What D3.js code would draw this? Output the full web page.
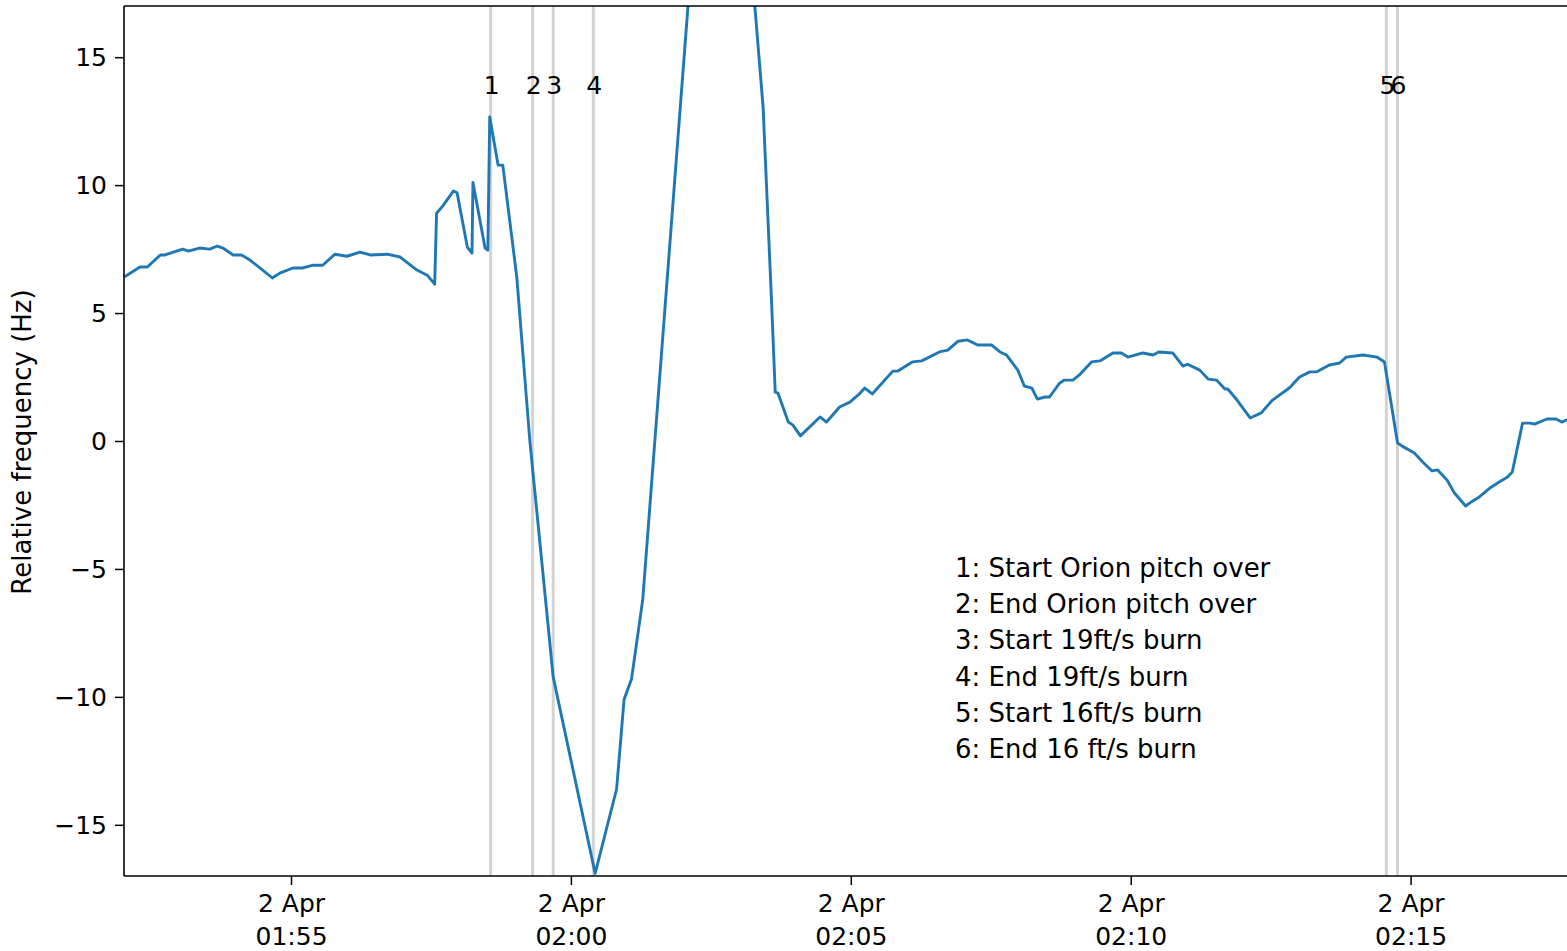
<!DOCTYPE html>
<html>
<head>
<meta charset="utf-8">
<script src="https://cdn.jsdelivr.net/npm/d3@7"></script>
<style>
  html, body { margin: 0; padding: 0; background: #fff; }
  svg { display: block; }
  text { font-family: "DejaVu Sans", sans-serif; fill: #000; }
</style>
</head>
<body>
<svg id="chart" width="1567" height="951"></svg>
<script>
// ---- data ----
const day = "2022-04-02";
const times = [
  "01:52:03","01:52:18","01:52:26","01:52:40","01:52:45","01:52:54","01:53:04","01:53:10","01:53:22","01:53:33",
  "01:53:41","01:53:47","01:53:58","01:54:07","01:54:16","01:54:27","01:54:40","01:54:48","01:55:02","01:55:12",
  "01:55:24","01:55:34","01:55:47","01:56:00","01:56:14","01:56:25","01:56:43","01:56:57","01:57:15","01:57:26",
  "01:57:34","01:57:36","01:57:43","01:57:54","01:57:58","01:58:09","01:58:14","01:58:15","01:58:28","01:58:31",
  "01:58:33","01:58:42","01:58:47","01:59:02","01:59:16","01:59:41","02:00:26","02:00:49","02:00:57","02:01:05",
  "02:01:17","02:02:40","02:03:26","02:03:35","02:03:39","02:03:42","02:03:53","02:03:58","02:04:06","02:04:27",
  "02:04:34","02:04:48","02:04:59","02:05:08","02:05:15","02:05:23","02:05:45","02:05:50","02:06:06","02:06:16",
  "02:06:35","02:06:44","02:06:55","02:07:05","02:07:16","02:07:31","02:07:40","02:07:47","02:07:59","02:08:06",
  "02:08:14","02:08:20","02:08:28","02:08:33","02:08:44","02:08:49","02:08:58","02:09:05","02:09:18","02:09:27",
  "02:09:41","02:09:50","02:09:57","02:10:13","02:10:24","02:10:30","02:10:45","02:10:56","02:11:01","02:11:14",
  "02:11:23","02:11:32","02:11:41","02:11:44","02:11:54","02:12:08","02:12:20","02:12:32","02:12:50","02:13:01",
  "02:13:12","02:13:19","02:13:33","02:13:44","02:13:51","02:14:09","02:14:24","02:14:32","02:14:46","02:14:51",
  "02:15:04","02:15:13","02:15:23","02:15:29","02:15:39","02:15:47","02:15:59","02:16:05","02:16:12","02:16:25",
  "02:16:35","02:16:44","02:16:49","02:17:00","02:17:08","02:17:13","02:17:26","02:17:36","02:17:42","02:17:47",
  "02:17:56"
];
const values = [
  6.45,6.8,6.8,7.27,7.27,7.38,7.5,7.42,7.54,7.5,
  7.62,7.54,7.27,7.27,7.07,6.76,6.37,6.56,6.76,6.76,
  6.87,6.87,7.3,7.22,7.38,7.27,7.3,7.19,6.68,6.48,
  6.13,8.9,9.2,9.77,9.7,7.58,7.34,10.1,7.54,7.46,
  12.66,10.78,10.78,6.4,0.0,-9.22,-16.9,-13.6,-10.1,-9.3,
  -6.2,33.5,13.05,5.5,1.91,1.87,0.74,0.62,0.2,0.94,
  0.74,1.33,1.52,1.8,2.07,1.84,2.73,2.73,3.09,3.13,
  3.48,3.55,3.9,3.95,3.75,3.75,3.48,3.36,2.77,2.15,
  2.07,1.64,1.72,1.72,2.27,2.38,2.38,2.58,3.09,3.13,
  3.44,3.44,3.28,3.44,3.36,3.48,3.44,2.93,3.0,2.77,
  2.42,2.38,2.03,2.03,1.6,0.9,1.1,1.6,2.07,2.5,
  2.7,2.7,2.97,3.05,3.28,3.36,3.28,3.09,-0.08,-0.2,
  -0.47,-0.82,-1.17,-1.13,-1.52,-2.03,-2.54,-2.38,-2.23,-1.84,
  -1.6,-1.41,-1.21,0.7,0.7,0.66,0.86,0.86,0.74,0.82,
  0.8
];
const eventTimes = ["01:58:34","01:59:19","01:59:41","02:00:24","02:14:34","02:14:46"];
const eventLabels = ["1","2","3","4","5","6"];
const annotationLines = [
  "1: Start Orion pitch over",
  "2: End Orion pitch over",
  "3: Start 19ft/s burn",
  "4: End 19ft/s burn",
  "5: Start 16ft/s burn",
  "6: End 16 ft/s burn"
];
const xTickTimes = ["01:55","02:00","02:05","02:10","02:15"];
const yTicks = [-15,-10,-5,0,5,10,15];
const xDomainTimes = ["01:52:01","02:17:53"];
const yDomain = [-17, 17];
const yLabel = "Relative frequency (Hz)";

// ---- drawing ----
(function draw() {
  const parse = d3.utcParse("%Y-%m-%d %H:%M:%S");
  const T = s => parse(day + " " + (s.length === 5 ? s + ":00" : s));

  const pL = 124, pR = 1572, pT = 6, pB = 876;
  const svg = d3.select("#chart");

  const x = d3.scaleUtc().domain(xDomainTimes.map(T)).range([pL, pR]);
  const y = d3.scaleLinear().domain(yDomain).range([pB, pT]);

  svg.append("defs").append("clipPath").attr("id", "clip")
    .append("rect").attr("x", pL).attr("y", pT).attr("width", pR - pL).attr("height", pB - pT);

  const plot = svg.append("g").attr("clip-path", "url(#clip)");

  // event vertical lines
  plot.selectAll("line.ev").data(eventTimes).join("line")
    .attr("class", "ev")
    .attr("x1", d => x(T(d))).attr("x2", d => x(T(d)))
    .attr("y1", pT).attr("y2", pB)
    .attr("stroke", "#d3d3d3").attr("stroke-width", 3);

  // data line
  const data = times.map((t, i) => ({ t: T(t), v: values[i] }));
  plot.append("path").datum(data)
    .attr("fill", "none")
    .attr("stroke", "#1f77b4")
    .attr("stroke-width", 2.9)
    .attr("stroke-linejoin", "round")
    .attr("stroke-linecap", "square")
    .attr("d", d3.line().x(d => x(d.t)).y(d => y(d.v)));

  // event labels
  svg.selectAll("text.evl").data(eventTimes).join("text")
    .attr("class", "evl")
    .attr("x", d => x(T(d)) + 1)
    .attr("y", 94)
    .attr("text-anchor", "middle")
    .style("font-size", "25px")
    .text((d, i) => eventLabels[i]);

  // annotation text block
  const ann = svg.append("text").style("font-size", "26px");
  ann.selectAll("tspan").data(annotationLines).join("tspan")
    .attr("x", 955)
    .attr("y", (d, i) => 577 + i * 36.2)
    .text(d => d);

  // y axis
  const yAxis = svg.append("g").attr("transform", `translate(${pL},0)`)
    .call(d3.axisLeft(y).tickValues(yTicks).tickSize(9).tickPadding(8)
      .tickFormat(d => d < 0 ? "\u2212" + Math.abs(d) : String(d)));
  yAxis.select(".domain").remove();
  yAxis.selectAll(".tick line").attr("stroke", "#000").attr("stroke-width", 1.5);
  yAxis.selectAll(".tick text").style("font-size", "25px").attr("dy", "0.35em")
    .attr("font-family", "DejaVu Sans").attr("fill", "#000");

  // x axis
  const xAxis = svg.append("g").attr("transform", `translate(0,${pB})`)
    .call(d3.axisBottom(x).tickValues(xTickTimes.map(T)).tickSize(9).tickFormat(""));
  xAxis.select(".domain").remove();
  xAxis.selectAll(".tick line").attr("stroke", "#000").attr("stroke-width", 1.5);
  const fmtDay = d3.utcFormat("%-d %b");
  const fmtHM = d3.utcFormat("%H:%M");
  xAxis.selectAll(".tick").each(function(d) {
    const g = d3.select(this);
    const t = g.append("text").attr("text-anchor", "middle").style("font-size", "25px")
      .attr("font-family", "DejaVu Sans").attr("fill", "#000");
    t.append("tspan").attr("x", 0).attr("y", 36).text(fmtDay(d));
    t.append("tspan").attr("x", 0).attr("y", 69).text(fmtHM(d));
  });

  // spines
  svg.append("line").attr("x1", pL).attr("x2", pL).attr("y1", pT).attr("y2", pB)
    .attr("stroke", "#000").attr("stroke-width", 1.6);
  svg.append("line").attr("x1", pL).attr("x2", pR).attr("y1", pB).attr("y2", pB)
    .attr("stroke", "#000").attr("stroke-width", 1.6);
  svg.append("line").attr("x1", pL).attr("x2", pR).attr("y1", pT).attr("y2", pT)
    .attr("stroke", "#000").attr("stroke-width", 1.6);

  // y label
  svg.append("text")
    .attr("transform", `translate(31,${(pT + pB) / 2 + 1}) rotate(-90)`)
    .attr("text-anchor", "middle")
    .style("font-size", "26px")
    .text(yLabel);
})();
</script>
</body>
</html>
